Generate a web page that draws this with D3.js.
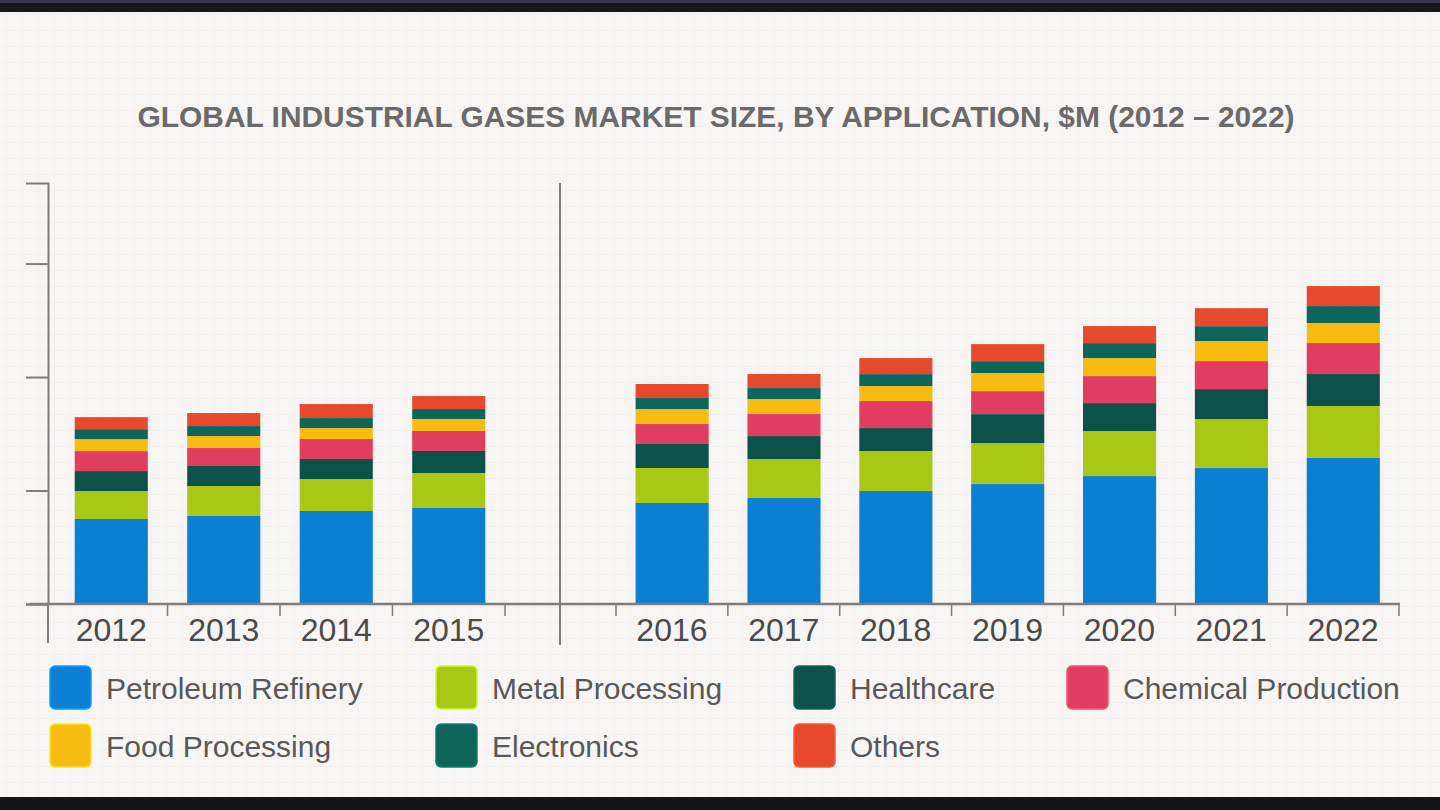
<!DOCTYPE html>
<html>
<head>
<meta charset="utf-8">
<script src="https://cdn.jsdelivr.net/npm/d3@7"></script>
<style>
  html, body { margin: 0; padding: 0; background: #f8f6f5; }
  svg { display: block; }
  text { font-family: "Liberation Sans", Arial, sans-serif; }
</style>
</head>
<body>
<svg id="chart" width="1440" height="810"></svg>
<script>
// ---- Data ($M) ----
const yearsLeft  = ["2012", "2013", "2014", "2015"];
const yearsRight = ["2016", "2017", "2018", "2019", "2020", "2021", "2022"];
const seriesNames = ["Petroleum Refinery", "Metal Processing", "Healthcare", "Chemical Production",
                     "Food Processing", "Electronics", "Others"];
const petroleumRefinery  = [14980, 15510, 16390, 16920, 17800, 18680, 19910, 21140, 22550, 23960, 25730];
const metalProcessing    = [4930, 5290, 5640, 6170, 6170, 6870, 7050, 7220, 7930, 8630, 9160];
const healthcare         = [3520, 3520, 3520, 3880, 4230, 4050, 4050, 5110, 4930, 5290, 5640];
const chemicalProduction = [3520, 3170, 3520, 3520, 3520, 3880, 4760, 4050, 4760, 4930, 5460];
const foodProcessing     = [2110, 2110, 1940, 2110, 2640, 2640, 2640, 3170, 3170, 3520, 3520];
const electronics        = [1760, 1760, 1760, 1760, 1940, 1940, 2110, 2110, 2640, 2640, 3000];
const others             = [2110, 2290, 2470, 2290, 2470, 2470, 2820, 3000, 3000, 3170, 3520];
const yTickValues = [0, 20000, 40000, 60000];
const yMax = 74200;
const titleText = "GLOBAL INDUSTRIAL GASES MARKET SIZE, BY APPLICATION, $M (2012 \u2013 2022)";
const colors = ["#0b80d2", "#a9c815", "#0c5248", "#e13d62", "#f8bb12", "#0e655c", "#e6492b"];

// ---- Build table ----
const allYears = yearsLeft.concat(yearsRight);
const seriesArrays = [petroleumRefinery, metalProcessing, healthcare, chemicalProduction,
                      foodProcessing, electronics, others];
const table = allYears.map((yr, i) => {
  const row = { year: yr };
  seriesNames.forEach((s, k) => row[s] = seriesArrays[k][i]);
  return row;
});

const svg = d3.select("#chart");
const W = 1440, H = 810;

// background + frame bars
svg.append("rect").attr("width", W).attr("height", H).attr("fill", "#f8f6f5");
// very faint graph-paper grid
const grid = svg.append("g").attr("stroke", "#f2efee").attr("stroke-width", 1);
d3.range(14, H, 16).forEach(v => grid.append("line").attr("x1", 0).attr("x2", W).attr("y1", v + 0.5).attr("y2", v + 0.5));
d3.range(6, W, 16).forEach(v => grid.append("line").attr("y1", 0).attr("y2", H).attr("x1", v + 0.5).attr("x2", v + 0.5));
svg.append("rect").attr("x", 0).attr("y", 0).attr("width", W).attr("height", 12).attr("fill", "#18171c");
svg.append("rect").attr("x", 0).attr("y", 0).attr("width", W).attr("height", 3).attr("fill", "#3a3650");
svg.append("rect").attr("x", 0).attr("y", 797).attr("width", W).attr("height", 13).attr("fill", "#141416");

// title
svg.append("text")
  .attr("x", 716).attr("y", 127)
  .attr("text-anchor", "middle")
  .attr("font-size", 30)
  .attr("font-weight", "bold")
  .attr("fill", "#6a6a6a")
  .attr("textLength", 1157)
  .attr("lengthAdjust", "spacingAndGlyphs")
  .text(titleText);

// scales
const y = d3.scaleLinear().domain([0, yMax]).range([604, 183]);
const xL = d3.scaleBand().domain(yearsLeft).range([55, 505]).paddingInner(0.35).paddingOuter(0.175);
const xR = d3.scaleBand().domain(yearsRight).range([616, 1399]).paddingInner(0.35).paddingOuter(0.175);
const xOf = yr => (yearsLeft.includes(yr) ? xL(yr) : xR(yr));
const color = d3.scaleOrdinal().domain(seriesNames).range(colors);

const axisColor = "#7d7d7d";

// stacked bars
const stacked = d3.stack().keys(seriesNames)(table);
svg.append("g").selectAll("g").data(stacked).join("g")
  .attr("fill", d => color(d.key))
  .selectAll("rect").data(d => d).join("rect")
  .attr("x", d => xOf(d.data.year))
  .attr("width", xL.bandwidth())
  .attr("y", d => y(d[1]))
  .attr("height", d => y(d[0]) - y(d[1]));

// y axis
const yAxis = svg.append("g").attr("transform", "translate(48,0)")
  .call(d3.axisLeft(y).tickValues(yTickValues).tickSize(22).tickFormat(""));
yAxis.selectAll("path, line").attr("stroke", axisColor).attr("stroke-width", 2);

// baseline across whole chart
svg.append("line").attr("x1", 30).attr("x2", 1400).attr("y1", y(0)).attr("y2", y(0))
  .attr("stroke", axisColor).attr("stroke-width", 2.5);
// y axis extension below baseline and panel divider
svg.append("line").attr("x1", 48).attr("x2", 48).attr("y1", y(0)).attr("y2", 643)
  .attr("stroke", axisColor).attr("stroke-width", 2);
svg.append("line").attr("x1", 560).attr("x2", 560).attr("y1", y(yMax)).attr("y2", 645)
  .attr("stroke", axisColor).attr("stroke-width", 2);

// x axes (labels) + category boundary ticks
function xAxis(scale) {
  const g = svg.append("g").attr("transform", `translate(0,${y(0)})`)
    .call(d3.axisBottom(scale).tickSize(0).tickPadding(10));
  g.select(".domain").remove();
  g.selectAll("text").attr("font-size", 32).attr("fill", "#4a4a4a")
    .attr("font-family", "'Liberation Sans', Arial, sans-serif").attr("dy", "0.85em");
  const r = scale.range(), step = scale.step();
  const bounds = d3.range(scale.domain().length + 1).map(i => r[0] + i * step);
  return { g, bounds };
}
const left = xAxis(xL), right = xAxis(xR);
const bt = svg.append("g").attr("stroke", axisColor).attr("stroke-width", 1.5);
left.bounds.slice(1).forEach(b => bt.append("line").attr("x1", b).attr("x2", b).attr("y1", y(0)).attr("y2", y(0) + 12));
right.bounds.forEach(b => bt.append("line").attr("x1", b).attr("x2", b).attr("y1", y(0)).attr("y2", y(0) + 12));

// legend
const legendCols = [50, 436, 794, 1067];
const legendRows = [666, 724];
const lg = svg.append("g");
seriesNames.forEach((name, i) => {
  const col = i % 4, row = Math.floor(i / 4);
  const gx = legendCols[col], gy = legendRows[row];
  lg.append("rect").attr("x", gx).attr("y", gy).attr("width", 41).attr("height", 43)
    .attr("rx", 5).attr("fill", color(name))
    .attr("stroke", d3.color(color(name)).brighter(0.6)).attr("stroke-width", 1.5);
  lg.append("text").attr("x", gx + 56).attr("y", gy + 33)
    .attr("font-size", 30).attr("fill", "#585858").text(name);
});
</script>
</body>
</html>
